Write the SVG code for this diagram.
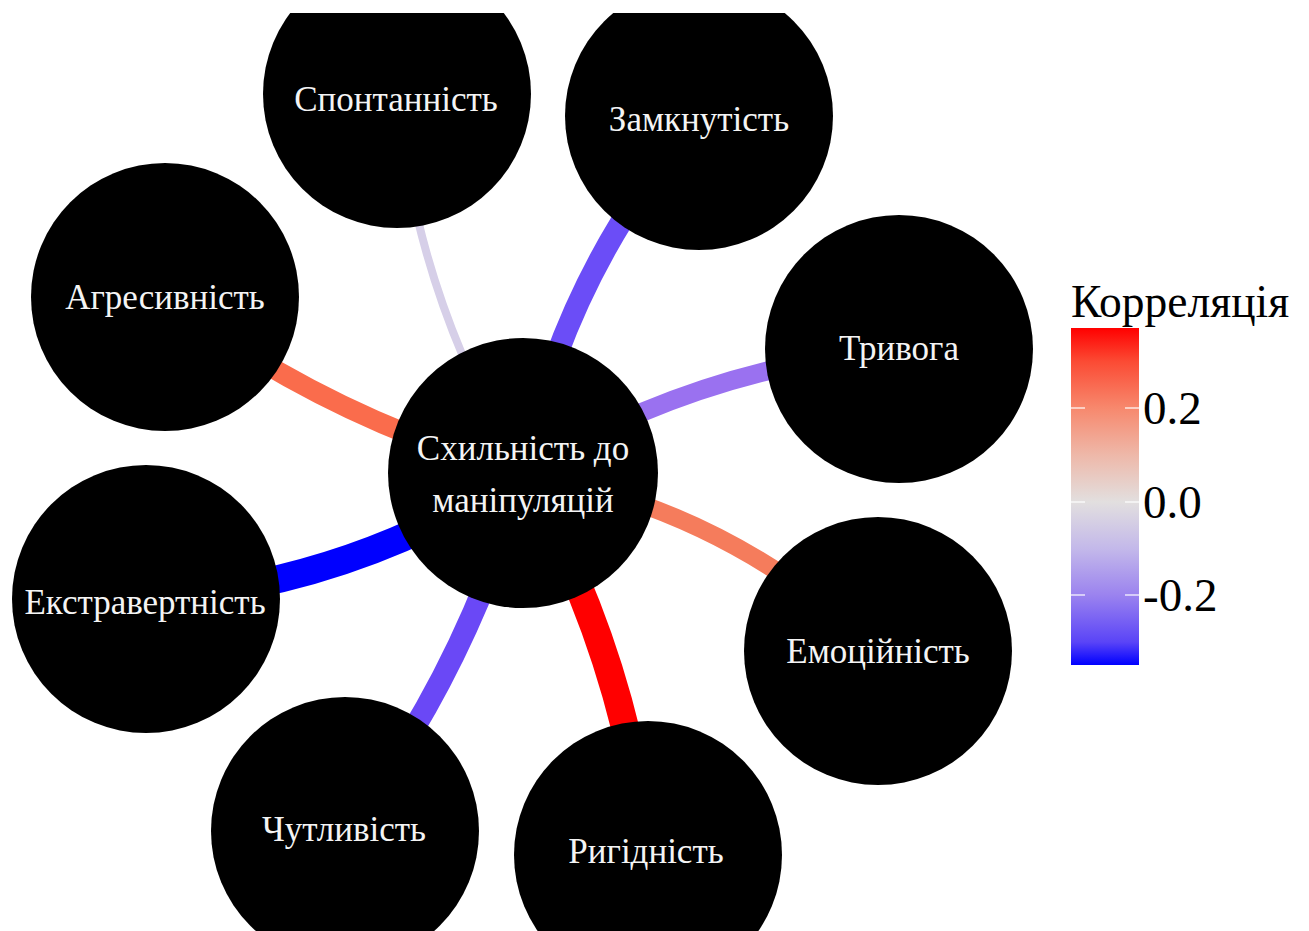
<svg xmlns="http://www.w3.org/2000/svg" width="1309" height="931" viewBox="0 0 1309 931">
<style>
.edge{fill:none;stroke-linecap:butt}
.node circle{fill:#000}
.node text{font-family:"Liberation Serif","Times New Roman",serif;font-size:35px;fill:#f4f4f4;text-anchor:middle}
.leg{font-family:"Liberation Serif","Times New Roman",serif;fill:#000}
.tick{stroke:#fff;stroke-width:1.2}
</style>
<defs>
<clipPath id="panel"><rect x="0" y="13" width="1309" height="918"/></clipPath>
<linearGradient id="cbar" x1="0" y1="0" x2="0" y2="1">
<stop offset="0" stop-color="#ff0000"/>
<stop offset="0.10" stop-color="#fb4b34"/>
<stop offset="0.237" stop-color="#f7886d"/>
<stop offset="0.377" stop-color="#eeb8a9"/>
<stop offset="0.516" stop-color="#e2dfdf"/>
<stop offset="0.656" stop-color="#c3b8ea"/>
<stop offset="0.792" stop-color="#9b83ef"/>
<stop offset="0.932" stop-color="#5a44f7"/>
<stop offset="1" stop-color="#0000ff"/>
</linearGradient>
</defs>
<rect width="1309" height="931" fill="#fff"/>
<g id="edges">
<path class="edge" d="M523,473 Q416.3,298 397,94" stroke="#d6cfe8" stroke-width="8"/>
<path class="edge" d="M523,473 Q564.4,271.5 699,116" stroke="#6b4df7" stroke-width="22"/>
<path class="edge" d="M523,473 Q696.6,367.3 899,349" stroke="#9a71f0" stroke-width="19"/>
<path class="edge" d="M523,473 Q727.4,508.4 878,651" stroke="#f57c5c" stroke-width="18"/>
<path class="edge" d="M523,473 Q624.5,651.2 648,855" stroke="#ff0000" stroke-width="28"/>
<path class="edge" d="M523,473 Q468,668.9 345,831" stroke="#6a48f6" stroke-width="22"/>
<path class="edge" d="M523,473 Q351,585.3 146,599" stroke="#0000ff" stroke-width="28"/>
<path class="edge" d="M523,473 Q327.2,419.1 165,297" stroke="#fa6c4c" stroke-width="20"/>
</g>
<g clip-path="url(#panel)">
<g id="node-hub" class="node"><circle cx="523" cy="473" r="135"/><text x="523" y="460">Схильність до</text><text x="523" y="512">маніпуляцій</text></g>
<g id="node-spont" class="node"><circle cx="397" cy="94" r="134"/><text x="396" y="111">Спонтанність</text></g>
<g id="node-zamk" class="node"><circle cx="699" cy="116" r="134"/><text x="699" y="131">Замкнутість</text></g>
<g id="node-tryv" class="node"><circle cx="899" cy="349" r="134"/><text x="899" y="360">Тривога</text></g>
<g id="node-emots" class="node"><circle cx="878" cy="651" r="134"/><text x="878" y="663">Емоційність</text></g>
<g id="node-rig" class="node"><circle cx="648" cy="855" r="134"/><text x="646" y="863">Ригідність</text></g>
<g id="node-chut" class="node"><circle cx="345" cy="831" r="134"/><text x="344" y="841">Чутливість</text></g>
<g id="node-ekstr" class="node"><circle cx="146" cy="599" r="134"/><text x="145" y="614">Екстравертність</text></g>
<g id="node-agr" class="node"><circle cx="165" cy="297" r="134"/><text x="165" y="309">Агресивність</text></g>
</g>
<g id="legend">
<text class="leg" x="1071" y="317" font-size="45.5">Корреляція</text>
<rect x="1071" y="328" width="68" height="337" fill="url(#cbar)"/>
<line class="tick" x1="1071" y1="408" x2="1085" y2="408"/><line class="tick" x1="1125" y1="408" x2="1139" y2="408"/>
<line class="tick" x1="1071" y1="502" x2="1085" y2="502"/><line class="tick" x1="1125" y1="502" x2="1139" y2="502"/>
<line class="tick" x1="1071" y1="595" x2="1085" y2="595"/><line class="tick" x1="1125" y1="595" x2="1139" y2="595"/>
<text class="leg" x="1143" y="424" font-size="47">0.2</text>
<text class="leg" x="1143" y="518" font-size="47">0.0</text>
<text class="leg" x="1143" y="611" font-size="47">-0.2</text>
</g>
</svg>
